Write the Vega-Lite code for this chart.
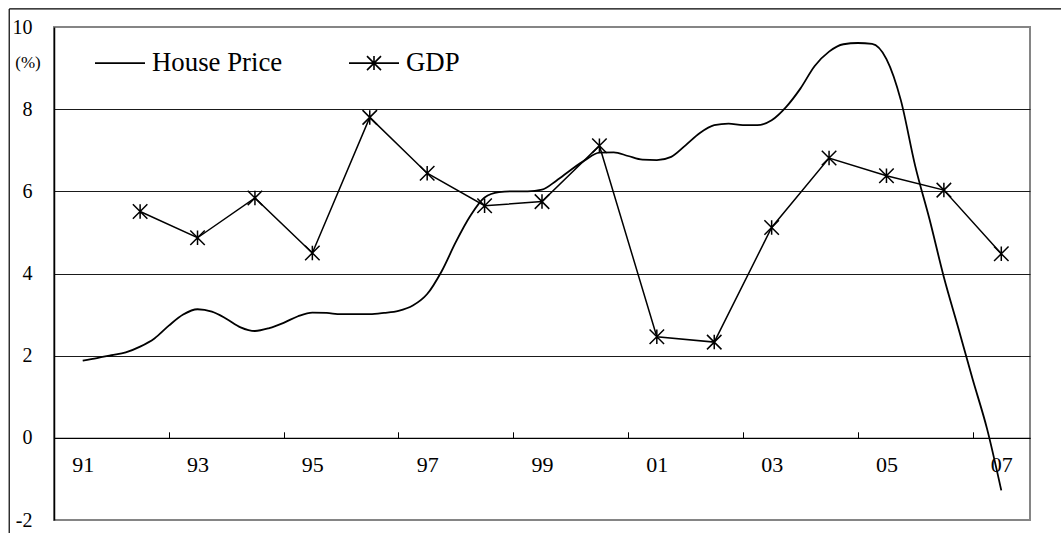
{
  "$schema": "https://vega.github.io/schema/vega-lite/v6.json",
  "width": 976,
  "height": 493,
  "autosize": {"type": "none"},
  "padding": {"left": 54, "top": 27, "right": 31, "bottom": 13},
  "background": "white",
  "config": {"view": {"stroke": "#858585", "strokeWidth": 2}, "font": "Liberation Serif"},
  "data": {"values": [
    {"series": "House Price", "year": 1991.00, "value": 1.88},
    {"series": "House Price", "year": 1991.25, "value": 1.94},
    {"series": "House Price", "year": 1991.50, "value": 2.01},
    {"series": "House Price", "year": 1991.75, "value": 2.08},
    {"series": "House Price", "year": 1992.00, "value": 2.22},
    {"series": "House Price", "year": 1992.25, "value": 2.42},
    {"series": "House Price", "year": 1992.50, "value": 2.73},
    {"series": "House Price", "year": 1992.75, "value": 3.00},
    {"series": "House Price", "year": 1993.00, "value": 3.13},
    {"series": "House Price", "year": 1993.25, "value": 3.07},
    {"series": "House Price", "year": 1993.50, "value": 2.90},
    {"series": "House Price", "year": 1993.75, "value": 2.69},
    {"series": "House Price", "year": 1994.00, "value": 2.60},
    {"series": "House Price", "year": 1994.25, "value": 2.67},
    {"series": "House Price", "year": 1994.50, "value": 2.80},
    {"series": "House Price", "year": 1994.75, "value": 2.96},
    {"series": "House Price", "year": 1995.00, "value": 3.05},
    {"series": "House Price", "year": 1995.25, "value": 3.04},
    {"series": "House Price", "year": 1995.50, "value": 3.01},
    {"series": "House Price", "year": 1995.75, "value": 3.01},
    {"series": "House Price", "year": 1996.00, "value": 3.01},
    {"series": "House Price", "year": 1996.25, "value": 3.04},
    {"series": "House Price", "year": 1996.50, "value": 3.09},
    {"series": "House Price", "year": 1996.75, "value": 3.22},
    {"series": "House Price", "year": 1997.00, "value": 3.50},
    {"series": "House Price", "year": 1997.25, "value": 4.05},
    {"series": "House Price", "year": 1997.50, "value": 4.77},
    {"series": "House Price", "year": 1997.75, "value": 5.40},
    {"series": "House Price", "year": 1998.00, "value": 5.85},
    {"series": "House Price", "year": 1998.25, "value": 5.98},
    {"series": "House Price", "year": 1998.50, "value": 6.00},
    {"series": "House Price", "year": 1998.75, "value": 6.00},
    {"series": "House Price", "year": 1999.00, "value": 6.04},
    {"series": "House Price", "year": 1999.25, "value": 6.26},
    {"series": "House Price", "year": 1999.50, "value": 6.52},
    {"series": "House Price", "year": 1999.75, "value": 6.76},
    {"series": "House Price", "year": 2000.00, "value": 6.94},
    {"series": "House Price", "year": 2000.25, "value": 6.95},
    {"series": "House Price", "year": 2000.50, "value": 6.86},
    {"series": "House Price", "year": 2000.75, "value": 6.77},
    {"series": "House Price", "year": 2001.00, "value": 6.76},
    {"series": "House Price", "year": 2001.25, "value": 6.84},
    {"series": "House Price", "year": 2001.50, "value": 7.12},
    {"series": "House Price", "year": 2001.75, "value": 7.42},
    {"series": "House Price", "year": 2002.00, "value": 7.61},
    {"series": "House Price", "year": 2002.25, "value": 7.65},
    {"series": "House Price", "year": 2002.50, "value": 7.61},
    {"series": "House Price", "year": 2002.75, "value": 7.61},
    {"series": "House Price", "year": 2003.00, "value": 7.73},
    {"series": "House Price", "year": 2003.25, "value": 8.05},
    {"series": "House Price", "year": 2003.50, "value": 8.50},
    {"series": "House Price", "year": 2003.75, "value": 9.05},
    {"series": "House Price", "year": 2004.00, "value": 9.40},
    {"series": "House Price", "year": 2004.25, "value": 9.58},
    {"series": "House Price", "year": 2004.50, "value": 9.61},
    {"series": "House Price", "year": 2004.75, "value": 9.59},
    {"series": "House Price", "year": 2005.00, "value": 9.22},
    {"series": "House Price", "year": 2005.25, "value": 8.22},
    {"series": "House Price", "year": 2005.50, "value": 6.62},
    {"series": "House Price", "year": 2005.75, "value": 5.32},
    {"series": "House Price", "year": 2006.00, "value": 3.91},
    {"series": "House Price", "year": 2006.25, "value": 2.68},
    {"series": "House Price", "year": 2006.50, "value": 1.43},
    {"series": "House Price", "year": 2006.75, "value": 0.23},
    {"series": "House Price", "year": 2007.00, "value": -1.28},
    {"series": "GDP", "year": 1992, "value": 5.51},
    {"series": "GDP", "year": 1993, "value": 4.87},
    {"series": "GDP", "year": 1994, "value": 5.84},
    {"series": "GDP", "year": 1995, "value": 4.50},
    {"series": "GDP", "year": 1996, "value": 7.80},
    {"series": "GDP", "year": 1997, "value": 6.44},
    {"series": "GDP", "year": 1998, "value": 5.65},
    {"series": "GDP", "year": 1999, "value": 5.75},
    {"series": "GDP", "year": 2000, "value": 7.11},
    {"series": "GDP", "year": 2001, "value": 2.46},
    {"series": "GDP", "year": 2002, "value": 2.33},
    {"series": "GDP", "year": 2003, "value": 5.12},
    {"series": "GDP", "year": 2004, "value": 6.81},
    {"series": "GDP", "year": 2005, "value": 6.38},
    {"series": "GDP", "year": 2006, "value": 6.03},
    {"series": "GDP", "year": 2007, "value": 4.48}
  ]},
  "layer": [
    {
      "transform": [{"filter": "datum.series === 'House Price'"}],
      "mark": {"type": "line", "interpolate": "monotone", "color": "black", "strokeWidth": 1.8},
      "encoding": {
        "x": {
          "field": "year", "type": "quantitative",
          "scale": {"domain": [1990.5, 2007.5], "nice": false, "zero": false},
          "axis": {
            "title": null,
            "values": [1990.5, 1992.5, 1994.5, 1996.5, 1998.5, 2000.5, 2002.5, 2004.5, 2006.5],
            "labelExpr": "slice(toString(round(datum.value + 0.5)), 2)",
            "labelOffset": 28.7, "labelFlush": false, "labelOverlap": false, "labelBound": false,
            "offset": -82.2, "grid": false,
            "domainColor": "black", "domainWidth": 1.2,
            "tickColor": "black", "tickWidth": 1, "tickSize": -6,
            "labelPadding": 23, "labelBaseline": "top",
            "labelFont": "Liberation Serif", "labelFontSize": 22, "labelColor": "black"
          }
        },
        "y": {
          "field": "value", "type": "quantitative",
          "scale": {"domain": [-2, 10], "nice": false, "zero": false},
          "axis": {
            "values": [-2, 0, 2, 4, 6, 8, 10],
            "labelExpr": "toString(datum.value)",
            "title": "(%)", "titleAngle": 0, "titleX": -26.5, "titleY": 35,
            "titleAlign": "center", "titleBaseline": "middle",
            "titleFont": "Liberation Serif", "titleFontSize": 17, "titleFontWeight": "normal", "titleColor": "black",
            "grid": true,
            "gridColor": {"condition": {"test": "datum.value === 10 || datum.value === -2", "value": "transparent"}, "value": "#1a1a1a"},
            "gridWidth": 1,
            "domainColor": "black", "domainWidth": 1.5,
            "ticks": false, "labelPadding": 22,
            "labelFont": "Liberation Serif", "labelFontSize": 20, "labelColor": "black"
          }
        }
      }
    },
    {
      "transform": [{"filter": "datum.series === 'GDP'"}],
      "mark": {"type": "line", "color": "black", "strokeWidth": 1.5},
      "encoding": {
        "x": {"field": "year", "type": "quantitative"},
        "y": {"field": "value", "type": "quantitative"}
      }
    },
    {
      "transform": [{"filter": "datum.series === 'GDP'"}],
      "mark": {"type": "point", "filled": false, "color": "black", "strokeWidth": 1.5, "size": 210, "opacity": 1, "shape": "M-1,-1L1,1M-1,1L1,-1M0,-1V1"},
      "encoding": {
        "x": {"field": "year", "type": "quantitative"},
        "y": {"field": "value", "type": "quantitative"}
      }
    },
    {
      "transform": [{"filter": "datum.series === 'legend only'"}],
      "mark": {"type": "point", "filled": false, "color": "black", "strokeWidth": 1.6, "opacity": 1},
      "encoding": {
        "x": {"field": "year", "type": "quantitative"},
        "y": {"field": "value", "type": "quantitative"},
        "shape": {
          "field": "series", "type": "nominal",
          "scale": {"domain": ["House Price", "GDP"], "range": ["M-1,0H1", "M-1,0H1M-0.28,-0.28L0.28,0.28M-0.28,0.28L0.28,-0.28M0,-0.28V0.28"]},
          "legend": {
            "title": null, "orient": "none", "legendX": 40, "legendY": 10, "direction": "horizontal",
            "labelFont": "Liberation Serif", "labelFontSize": 26.8, "labelColor": "black",
            "labelOffset": 6, "columnPadding": 62,
            "symbolSize": 2500, "symbolStrokeWidth": 1.6, "symbolStrokeColor": "black",
            "symbolFillColor": "transparent", "symbolOpacity": 1
          }
        }
      }
    },
    {
      "data": {"values": [{"frame": "outer"}]},
      "mark": {"type": "rule", "color": "black", "strokeWidth": 1.2, "clip": false},
      "encoding": {
        "x": {"datum": 1989.72, "type": "quantitative"},
        "x2": {"datum": 2015},
        "y": {"datum": 10.44, "type": "quantitative"}
      }
    },
    {
      "data": {"values": [{"frame": "outer"}]},
      "mark": {"type": "rule", "color": "black", "strokeWidth": 1.2, "clip": false},
      "encoding": {
        "x": {"datum": 1989.72, "type": "quantitative"},
        "y": {"datum": 10.44, "type": "quantitative"},
        "y2": {"datum": -6}
      }
    }
  ]
}
